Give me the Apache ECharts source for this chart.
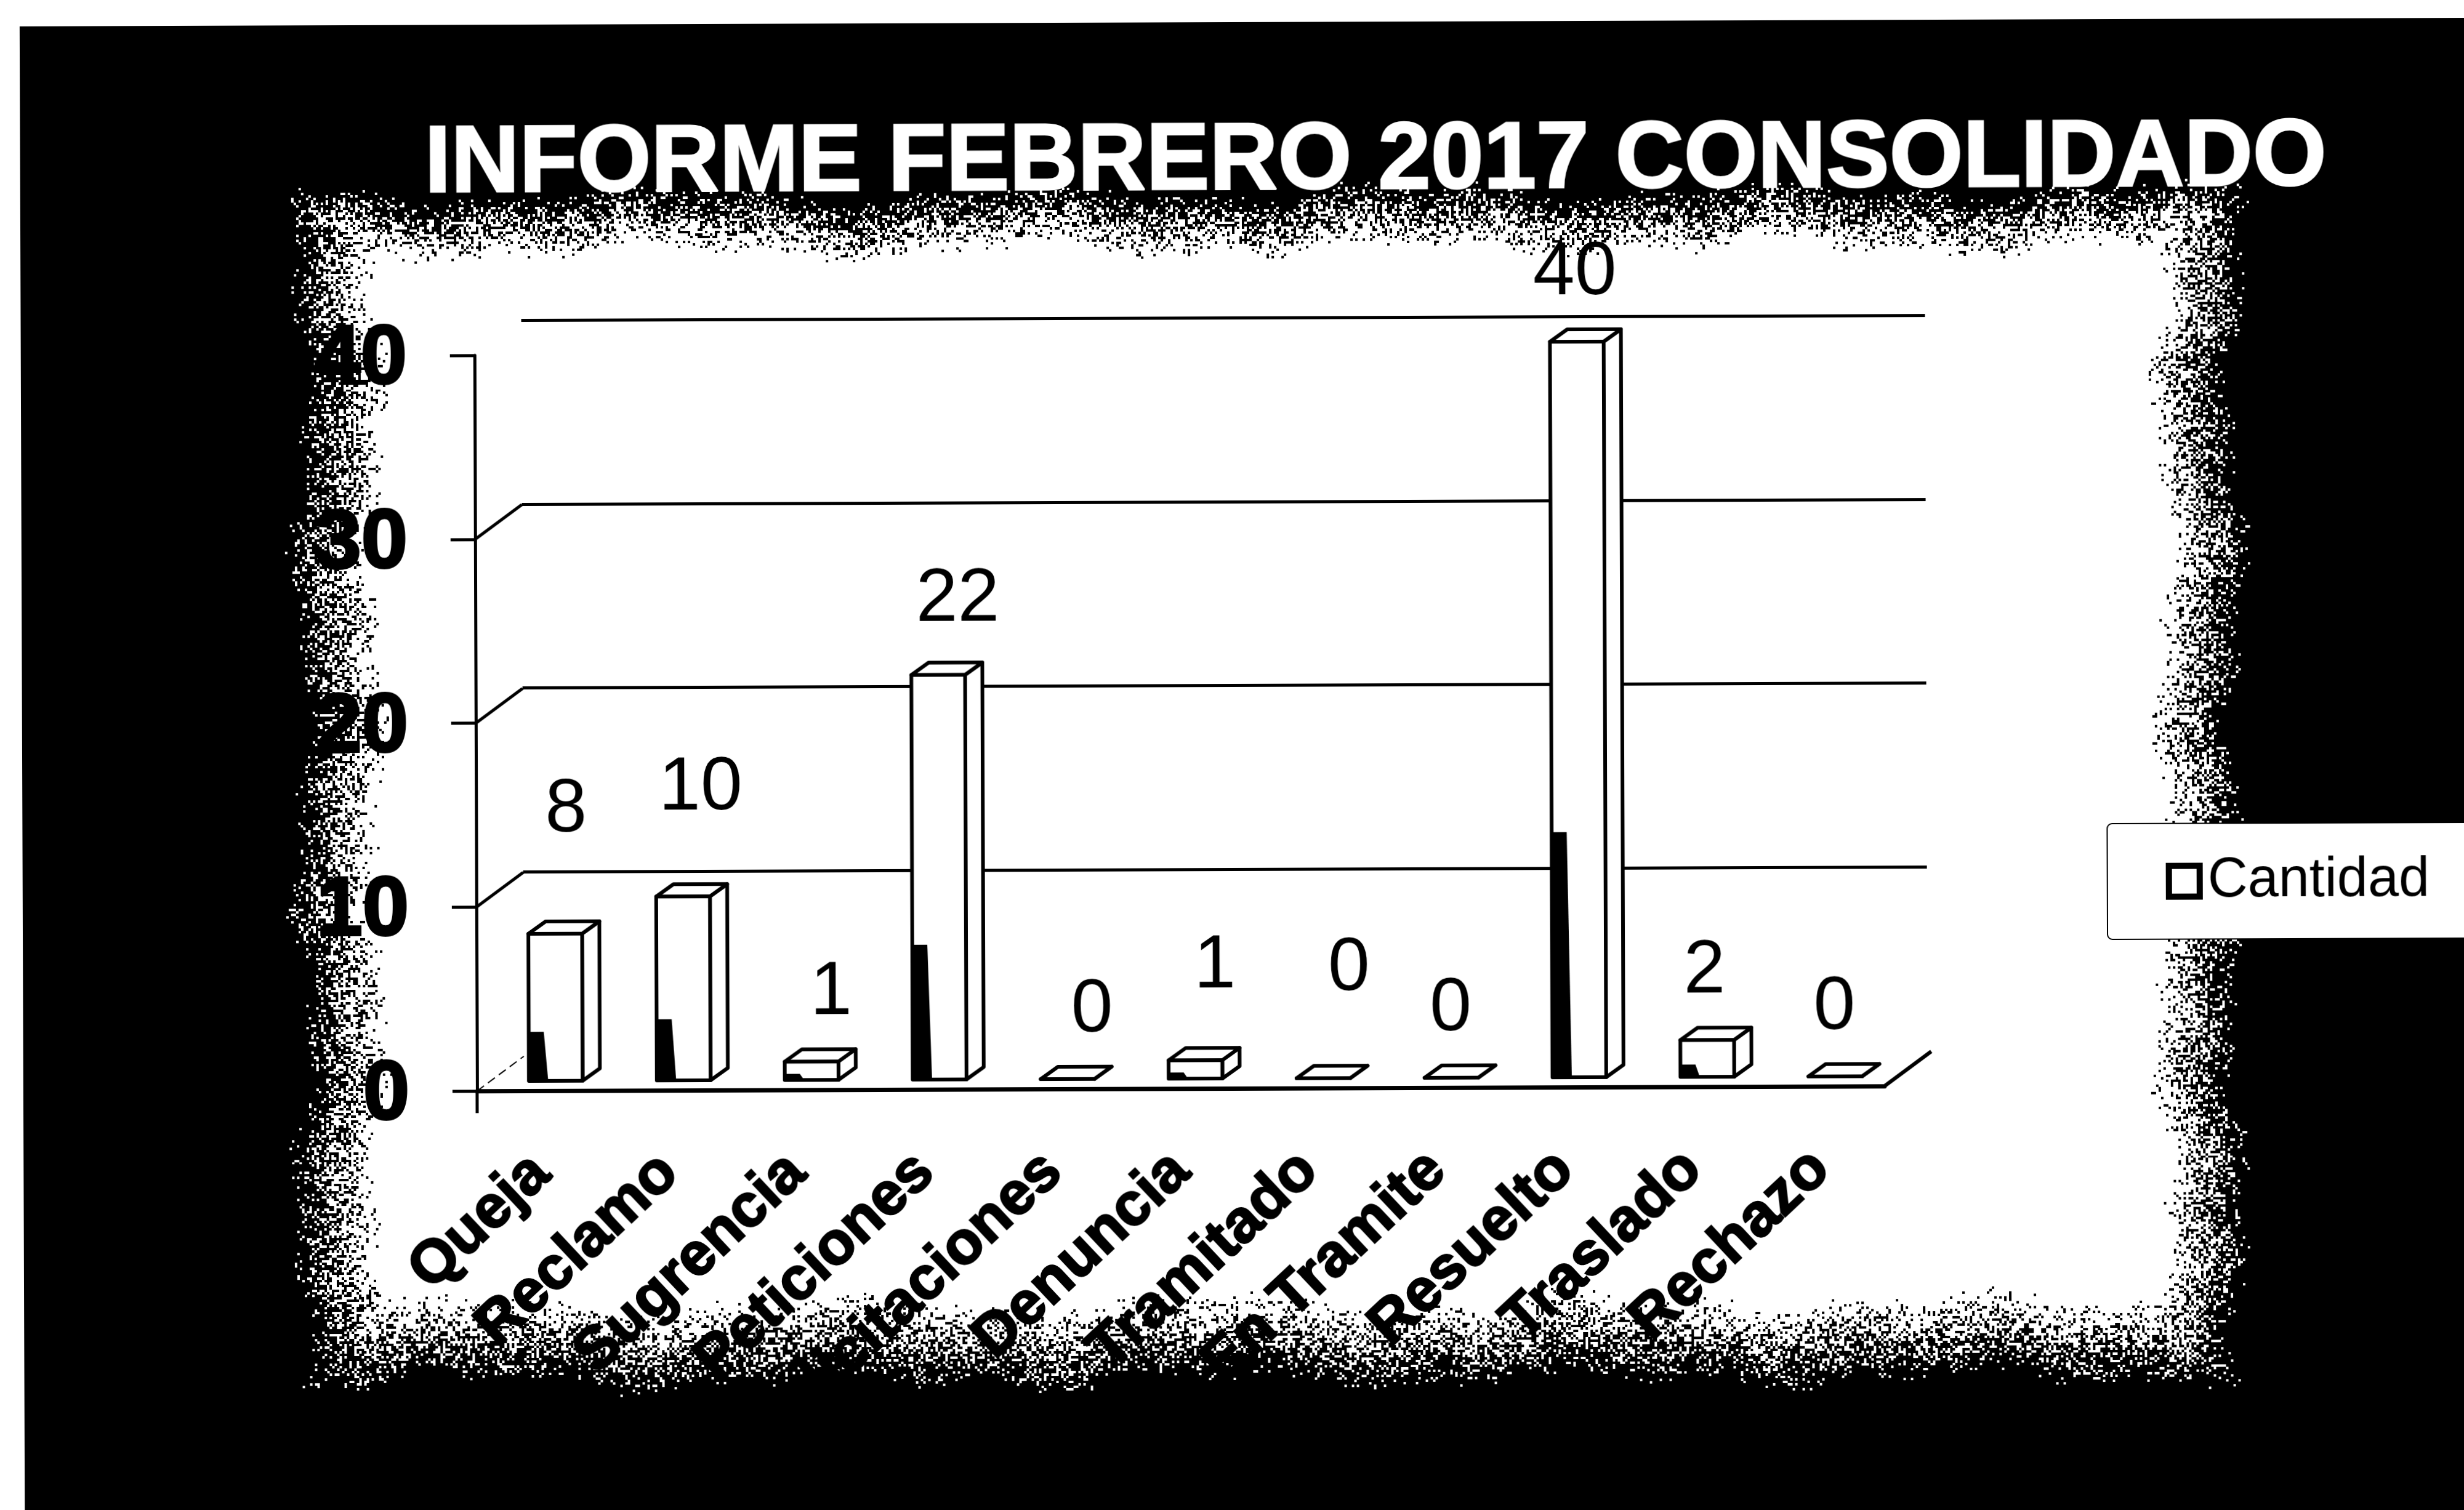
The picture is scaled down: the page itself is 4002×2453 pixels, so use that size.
<!DOCTYPE html>
<html>
<head>
<meta charset="utf-8">
<title>Informe febrero 2017</title>
<script src="https://cdn.jsdelivr.net/npm/echarts@6/dist/echarts.min.js"></script>
<style>
html, body { margin: 0; width: 4002px; height: 2453px; overflow: hidden; background: #fff; }
/* the scan is very slightly tilted, so the whole chart gets the same tilt */
#chart { position: absolute; left: 0; top: 0; width: 4060px; height: 2510px; transform-origin: 2001px 1226px; transform: rotate(-0.2deg); }
</style>
</head>
<body>
<div id="chart"></div>
<script>
const titleText = 'INFORME FEBRERO 2017 CONSOLIDADO'
const seriesName = 'Cantidad'
const categories = ['Queja', 'Reclamo', 'Sugrencia', 'Peticiones', 'Felicitaciones', 'Denuncia', 'Tramitado', 'En Tramite', 'Resuelto', 'Traslado', 'Rechazo']
const values = [8, 10, 1, 22, 0, 1, 0, 0, 40, 2, 0]
const wallTicks = [0, 10, 20, 30]

const fontName = '"Liberation Sans", Arial, sans-serif'
const chart = echarts.init(document.getElementById('chart'), null, { renderer: 'canvas' })

// black page with a white centre and a photocopied, dithered edge
function makeBackdrop(width, height) {
    const cell = 4
    const cols = Math.ceil(width / cell)
    const rows = Math.ceil(height / cell)
    const small = document.createElement('canvas')
    small.width = cols
    small.height = rows
    const ctx = small.getContext('2d')
    const img = ctx.createImageData(cols, rows)
    const speck = (a, b) => {
        const s = Math.sin(a * 12.9898 + b * 78.233) * 43758.5453
        return s - Math.floor(s)
    }
    const clamp = (t) => Math.min(1, Math.max(0, t))
    for (let r = 0; r < rows; r++) {
        for (let c = 0; c < cols; c++) {
            const x = c * cell
            const y = r * cell
            const wobX = 14 * Math.sin(y / 83) + 9 * Math.sin(y / 31 + 1)
            const wobY = 12 * Math.sin(x / 97) + 8 * Math.sin(x / 37 + 2)
            const dark = Math.max(
                clamp((620 - x + wobX) / 140),
                clamp((x - 3505 + wobX) / 135),
                clamp((410 - y + wobY) / 105),
                clamp((y - 2110 + wobY) / 140)
            )
            const black = speck(c, r) < dark
            const outside = x < 36 || y < 36
            const v = outside || !black ? 255 : 0
            const i = (r * cols + c) * 4
            img.data[i] = v
            img.data[i + 1] = v
            img.data[i + 2] = v
            img.data[i + 3] = 255
        }
    }
    ctx.putImageData(img, 0, 0)
    const full = document.createElement('canvas')
    full.width = width
    full.height = height
    const fctx = full.getContext('2d')
    fctx.imageSmoothingEnabled = false
    fctx.drawImage(small, 0, 0, width, height)
    return full
}

// hand placed labels in the original, nudged from the default spot above each bar
const labelShift = [[4, -89], [15, -64], [18, 0], [18, -10], [26, 0], [18, -41], [28, -66], [-15, 0], [-17, 0], [-18, 0], [-15, 0]]

function renderBar(params, api) {
    const idx = api.value(0)
    const val = api.value(1)
    const base = api.coord([idx, 0])
    const top = api.coord([idx, val])
    const band = api.size([1, 0])[0]
    const w = band * 0.42
    const l = base[0] + band * 0.115 - w / 2
    const r = l + w
    const b = base[1] - 16
    const t = top[1] - 16
    const dx = band * 0.135
    const dy = -20
    const line = { stroke: '#000', lineWidth: 6, fill: '#fff', lineJoin: 'round' }
    const shade = (b - t) / 3
    const children = [
        { type: 'polygon', shape: { points: [[r, b], [r + dx, b + dy], [r + dx, t + dy], [r, t]] }, style: line },
        { type: 'polygon', shape: { points: [[l, t], [r, t], [r + dx, t + dy], [l + dx, t + dy]] }, style: line },
        { type: 'rect', shape: { x: l, y: t, width: w, height: b - t }, style: line }
    ]
    if (val > 0) {
        children.push({
            type: 'polygon',
            shape: { points: [[l, b], [l + w * 0.36, b], [l + w * 0.28, b - shade], [l, b - shade]] },
            style: { fill: '#000' }
        })
    }
    const shift = labelShift[idx]
    children.push({
        type: 'text',
        style: {
            x: (l + r + dx) / 2 + shift[0],
            y: t + dy - 91 + shift[1],
            text: String(val),
            fill: '#000',
            font: '400 122px ' + fontName,
            align: 'center',
            verticalAlign: 'middle'
        }
    })
    return { type: 'group', children: children }
}

// diagonals joining the front axis to the back wall, plus the floor's right edge
function renderWall(params, api) {
    const tick = api.value(0)
    const band = api.size([1, 0])[0]
    const p = api.coord([0, tick])
    const x0 = p[0] - band / 2
    const y0 = p[1]
    const children = [{
        type: 'line',
        shape: { x1: x0, y1: y0, x2: x0 + 76, y2: y0 - 56 },
        style: tick === 0 ? { stroke: '#000', lineWidth: 2, lineDash: [14, 8] } : { stroke: '#000', lineWidth: 5 }
    }]
    if (tick === 0) {
        const end = api.coord([categories.length - 1, 0])
        const xr = end[0] + band / 2
        children.push({
            type: 'line',
            shape: { x1: xr, y1: end[1], x2: xr + 76, y2: end[1] - 56 },
            style: { stroke: '#000', lineWidth: 6 }
        })
        children.push({
            type: 'line',
            shape: { x1: x0, y1: y0, x2: x0, y2: y0 + 36 },
            style: { stroke: '#000', lineWidth: 5 }
        })
    }
    return { type: 'group', children: children }
}

const option = {
    animation: false,
    backgroundColor: '#fff',
    graphic: [{
        type: 'image',
        z: -1,
        silent: true,
        style: { image: makeBackdrop(4060, 2510), x: 0, y: 0, width: 4060, height: 2510 }
    }],
    title: {
        text: titleText,
        left: 693,
        top: 188,
        padding: 0,
        textStyle: {
            color: '#fff',
            fontFamily: fontName,
            fontWeight: 'bold',
            fontSize: 154,
            textBorderColor: '#fff',
            textBorderWidth: 3
        }
    },
    legend: {
        data: [{ name: seriesName, icon: 'rect', itemStyle: { color: '#fff', borderColor: '#000', borderWidth: 10 } }],
        left: 3422,
        top: 1343,
        orient: 'horizontal',
        selectedMode: false,
        itemWidth: 50,
        itemHeight: 50,
        itemGap: 0,
        padding: [49, 100, 49, 95],
        backgroundColor: '#fff',
        borderColor: '#000',
        borderWidth: 2,
        borderRadius: 8,
        textStyle: { color: '#000', fontFamily: fontName, fontSize: 90, padding: [0, 0, 0, 8] }
    },
    grid: [
        { left: 773, top: 573, width: 2286, height: 1195 },
        { left: 849, top: 516, width: 2280, height: 1195 }
    ],
    xAxis: [
        {
            type: 'category',
            gridIndex: 0,
            data: categories,
            axisLine: { lineStyle: { color: '#000', width: 7 } },
            axisTick: { length: 14, lineStyle: { color: '#000', width: 4 } },
            axisLabel: {
                interval: 0,
                rotate: 43,
                margin: 120,
                color: '#000',
                fontFamily: fontName,
                fontWeight: 'bold',
                fontSize: 98,
                textBorderColor: '#000',
                textBorderWidth: 3
            }
        },
        { type: 'category', gridIndex: 1, data: categories, show: false }
    ],
    yAxis: [
        {
            type: 'value',
            gridIndex: 0,
            min: 0,
            max: 40,
            interval: 10,
            axisLine: { show: true, lineStyle: { color: '#000', width: 5 } },
            axisTick: { show: true, length: 40, lineStyle: { color: '#000', width: 5 } },
            splitLine: { show: false },
            axisLabel: {
                margin: 110,
                verticalAlign: 'top',
                lineHeight: 16,
                color: '#000',
                fontFamily: fontName,
                fontWeight: 'bold',
                fontSize: 135,
                textBorderColor: '#000',
                textBorderWidth: 4
            }
        },
        {
            type: 'value',
            gridIndex: 1,
            min: 0,
            max: 40,
            interval: 10,
            axisLine: { show: false },
            axisTick: { show: false },
            axisLabel: { show: false },
            splitLine: { show: true, showMinLine: false, lineStyle: { color: '#000', width: 5 } }
        }
    ],
    series: [
        {
            name: 'wall',
            type: 'custom',
            xAxisIndex: 0,
            yAxisIndex: 0,
            silent: true,
            clip: false,
            renderItem: renderWall,
            encode: { y: 0 },
            data: wallTicks.map((v) => [v])
        },
        {
            name: seriesName,
            type: 'custom',
            xAxisIndex: 0,
            yAxisIndex: 0,
            clip: false,
            itemStyle: { color: '#fff', borderColor: '#000', borderWidth: 10 },
            renderItem: renderBar,
            encode: { x: 0, y: 1 },
            data: values.map((v, i) => [i, v])
        }
    ]
}

chart.setOption(option)
</script>
</body>
</html>
